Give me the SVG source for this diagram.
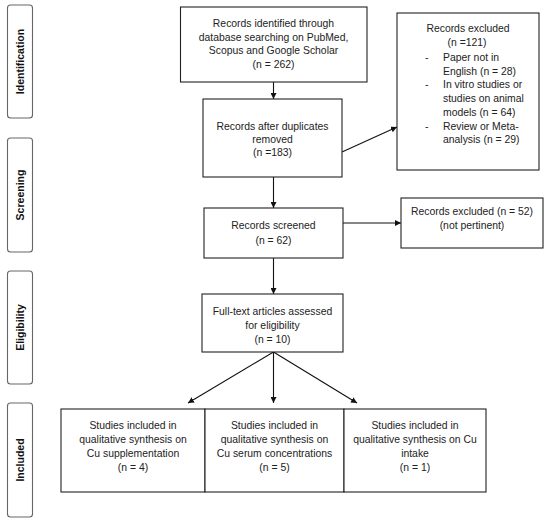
<svg xmlns="http://www.w3.org/2000/svg" width="550" height="524" viewBox="0 0 550 524">
<style>
.box{fill:#fff;stroke:#222;stroke-width:1.1}
.side{fill:#fff;stroke:#666;stroke-width:1.1}
.t{font-family:"Liberation Sans",Arial,sans-serif;font-size:10.4px;fill:#222;text-anchor:middle}
.tl{font-family:"Liberation Sans",Arial,sans-serif;font-size:10.4px;fill:#222}
.st{font-family:"Liberation Sans",Arial,sans-serif;font-size:10.5px;font-weight:bold;fill:#111;text-anchor:middle}
.c{stroke:#111;stroke-width:1.1;fill:none;marker-end:url(#ah)}
</style>
<defs>
<marker id="ah" viewBox="0 0 10 10" refX="10" refY="5" markerWidth="6" markerHeight="6" markerUnits="userSpaceOnUse" orient="auto">
<path d="M0,0 L10,5 L0,10 z" fill="#111"/>
</marker>
</defs>
<rect width="550" height="524" fill="#fff"/>
<g id="phase-identification">
<rect class="side" x="7.5" y="5" width="25" height="113" rx="3"/>
<text class="st" transform="translate(24,61.5) rotate(-90)">Identification</text>
</g>
<g id="phase-screening">
<rect class="side" x="7.5" y="138" width="25" height="114" rx="3"/>
<text class="st" transform="translate(24,195) rotate(-90)">Screening</text>
</g>
<g id="phase-eligibility">
<rect class="side" x="7.5" y="271" width="25" height="113" rx="3"/>
<text class="st" transform="translate(24,327.5) rotate(-90)">Eligibility</text>
</g>
<g id="phase-included">
<rect class="side" x="7.5" y="403" width="25" height="114" rx="3"/>
<text class="st" transform="translate(24,460) rotate(-90)">Included</text>
</g>
<g id="connectors">
<line class="c" x1="273.5" y1="82" x2="273.5" y2="99"/>
<line class="c" x1="342" y1="152" x2="397" y2="127"/>
<line class="c" x1="273.5" y1="177" x2="273.5" y2="208"/>
<line class="c" x1="343" y1="223" x2="401" y2="223"/>
<line class="c" x1="273.5" y1="258" x2="273.5" y2="294"/>
<line class="c" x1="273.5" y1="352" x2="188" y2="403"/>
<line class="c" x1="273.5" y1="352" x2="273.5" y2="403"/>
<line class="c" x1="273.5" y1="352" x2="357" y2="403"/>
</g>
<g id="identified">
<rect class="box" x="180.5" y="7" width="186.5" height="75"/>
<text class="t" x="273.5" y="27">Records identified through</text>
<text class="t" x="273.5" y="40.5">database searching on PubMed,</text>
<text class="t" x="273.5" y="54">Scopus and Google Scholar</text>
<text class="t" x="273.5" y="67.5">(n = 262)</text>
</g>
<g id="after-duplicates">
<rect class="box" x="203" y="99" width="139" height="78"/>
<text class="t" x="272.5" y="130">Records after duplicates</text>
<text class="t" x="272.5" y="143">removed</text>
<text class="t" x="272.5" y="156">(n =183)</text>
</g>
<g id="excluded-121">
<rect class="box" x="397" y="13" width="142" height="157"/>
<text class="t" x="468" y="32">Records excluded</text>
<text class="t" x="467" y="45.5">(n =121)</text>
<text class="tl" x="425" y="61">-</text>
<text class="tl" x="443" y="61">Paper not in</text>
<text class="tl" x="443" y="74.5">English (n = 28)</text>
<text class="tl" x="425" y="88">-</text>
<text class="tl" x="443" y="88">In vitro studies or</text>
<text class="tl" x="443" y="101.5">studies on animal</text>
<text class="tl" x="443" y="115.5">models (n = 64)</text>
<text class="tl" x="425" y="130">-</text>
<text class="tl" x="443" y="130">Review or Meta-</text>
<text class="tl" x="443" y="143">analysis  (n = 29)</text>
</g>
<g id="screened">
<rect class="box" x="204" y="208" width="139" height="50"/>
<text class="t" x="273.5" y="229">Records screened</text>
<text class="t" x="273.5" y="244">(n = 62)</text>
</g>
<g id="excluded-52">
<rect class="box" x="401" y="198" width="142" height="50"/>
<text class="t" x="472" y="214.5">Records excluded (n = 52)</text>
<text class="t" x="472" y="228.5">(not pertinent)</text>
</g>
<g id="full-text">
<rect class="box" x="202" y="294" width="141" height="58"/>
<text class="t" x="272.5" y="314.5">Full-text articles assessed</text>
<text class="t" x="272.5" y="328.5">for eligibility</text>
<text class="t" x="272.5" y="343">(n = 10)</text>
</g>
<g id="included-supplementation">
<rect class="box" x="61" y="409" width="144" height="83"/>
<text class="t" x="133" y="429">Studies included in</text>
<text class="t" x="133" y="443">qualitative synthesis on</text>
<text class="t" x="133" y="457">Cu supplementation</text>
<text class="t" x="133" y="471">(n = 4)</text>
</g>
<g id="included-serum">
<rect class="box" x="205" y="409" width="139" height="83"/>
<text class="t" x="274.5" y="429">Studies included in</text>
<text class="t" x="274.5" y="443">qualitative synthesis on</text>
<text class="t" x="274.5" y="457">Cu serum concentrations</text>
<text class="t" x="274.5" y="471">(n = 5)</text>
</g>
<g id="included-intake">
<rect class="box" x="344" y="409" width="142" height="83"/>
<text class="t" x="415" y="429">Studies included in</text>
<text class="t" x="415" y="443">qualitative synthesis on Cu</text>
<text class="t" x="415" y="457">intake</text>
<text class="t" x="415" y="471">(n = 1)</text>
</g>
</svg>
